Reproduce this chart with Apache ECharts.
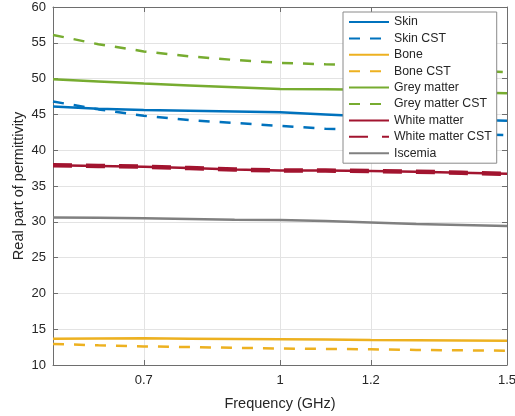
<!DOCTYPE html>
<html>
<head>
<meta charset="utf-8">
<script src="https://cdn.jsdelivr.net/npm/echarts@6/dist/echarts.min.js"></script>
<style>
  html, body { margin: 0; padding: 0; background: #fff; }
  #chart { width: 515px; height: 416px; }
</style>
</head>
<body>
<div id="chart"></div>
<script>
// Frequency samples (GHz)
const freq = [0.5, 0.6, 0.7, 0.8, 0.9, 1.0, 1.1, 1.2, 1.3, 1.4, 1.5];
const xTicks = [0.7, 1, 1.2, 1.5];

// Real part of permittivity per tissue
const skin          = [46.1, 45.8, 45.6, 45.5, 45.4, 45.3, 45.0, 44.7, 44.5, 44.3, 44.1];
const skinCST       = [46.8, 45.7, 44.8, 44.2, 43.8, 43.4, 43.0, 42.8, 42.5, 42.3, 42.1];
const bone          = [13.65, 13.7, 13.72, 13.68, 13.64, 13.6, 13.55, 13.5, 13.47, 13.43, 13.4];
const boneCST       = [12.95, 12.75, 12.6, 12.5, 12.4, 12.3, 12.25, 12.2, 12.1, 12.05, 12.0];
const greyMatter    = [49.9, 49.6, 49.3, 49.05, 48.8, 48.55, 48.5, 48.45, 48.3, 48.1, 47.95];
const greyMatterCST = [56.1, 54.8, 53.8, 53.1, 52.6, 52.2, 52.0, 51.9, 51.6, 51.2, 50.9];
const whiteMatter   = [37.9, 37.8, 37.7, 37.5, 37.3, 37.15, 37.15, 37.1, 37.0, 36.85, 36.7];
const whiteMatterCST= [37.9, 37.8, 37.7, 37.5, 37.3, 37.15, 37.15, 37.1, 37.0, 36.85, 36.7];
const iscemia       = [30.6, 30.55, 30.5, 30.4, 30.3, 30.25, 30.1, 29.9, 29.7, 29.55, 29.4];

const FONT = '"Liberation Sans", Arial, Helvetica, sans-serif';
const TXT = '#262626';
const AX = '#6e6e6e';

function pts(vals) { return freq.map((f, i) => [f, vals[i]]); }

function line(name, vals, color, dashed, width, dash) {
  return {
    name: name,
    type: 'line',
    data: pts(vals),
    showSymbol: false,
    symbol: 'none',
    animation: false,
    lineStyle: {
      color: color,
      width: width || 2.5,
      type: dashed ? (dash || [11, 10]) : 'solid',
      cap: 'butt'
    },
    itemStyle: { color: color }
  };
}

const chart = echarts.init(document.getElementById('chart'), null, { renderer: 'canvas' });

chart.setOption({
  backgroundColor: '#fff',
  animation: false,
  textStyle: { fontFamily: FONT, color: TXT },
  grid: { left: 53, right: 8, top: 7, bottom: 51, containLabel: false, outerBoundsMode: 'none' },
  legend: {
    orient: 'vertical',
    left: 343,
    top: 12,
    itemWidth: 40,
    itemHeight: 14,
    itemGap: 4.4,
    padding: [4, 5, 4, 5],
    backgroundColor: '#fff',
    borderColor: '#8a8a8a',
    borderWidth: 1,
    itemStyle: { opacity: 0 },
    textStyle: { fontFamily: FONT, fontSize: 12.3, color: TXT },
    data: ['Skin', 'Skin CST', 'Bone', 'Bone CST', 'Grey matter', 'Grey matter CST',
           'White matter', 'White matter CST', 'Iscemia']
  },
  xAxis: [{
    type: 'value',
    min: 0.5, max: 1.5,
    name: 'Frequency (GHz)',
    nameLocation: 'middle',
    nameGap: 31,
    nameMoveOverlap: false,
    nameTextStyle: { fontFamily: FONT, fontSize: 14.5, color: TXT },
    axisLine: { show: true, onZero: false, lineStyle: { color: AX, width: 1 } },
    axisTick: { show: true, inside: true, length: 5, customValues: xTicks, lineStyle: { color: AX } },
    axisLabel: { customValues: xTicks, fontFamily: FONT, fontSize: 13, color: TXT, margin: 9,
                 formatter: v => String(+v.toFixed(2)) },
    splitLine: { show: true, lineStyle: { color: '#e3e3e3', width: 1 } }
  }, {
    type: 'value',
    position: 'top',
    min: 0.5, max: 1.5,
    axisLine: { show: true, onZero: false, lineStyle: { color: AX, width: 1 } },
    axisTick: { show: true, inside: true, length: 5, customValues: xTicks, lineStyle: { color: AX } },
    axisLabel: { show: false },
    splitLine: { show: false }
  }],
  yAxis: [{
    type: 'value',
    min: 10, max: 60, interval: 5,
    name: 'Real part of permittivity',
    nameLocation: 'middle',
    nameGap: 27,
    nameMoveOverlap: false,
    nameTextStyle: { fontFamily: FONT, fontSize: 14.5, color: TXT },
    axisLine: { show: true, onZero: false, lineStyle: { color: AX, width: 1 } },
    axisTick: { show: true, inside: true, length: 5, lineStyle: { color: AX } },
    axisLabel: { fontFamily: FONT, fontSize: 13, color: TXT, margin: 7 },
    splitLine: { show: true, lineStyle: { color: '#e3e3e3', width: 1 } }
  }, {
    type: 'value',
    position: 'right',
    min: 10, max: 60, interval: 5,
    axisLine: { show: true, onZero: false, lineStyle: { color: AX, width: 1 } },
    axisTick: { show: true, inside: true, length: 5, lineStyle: { color: AX } },
    axisLabel: { show: false },
    splitLine: { show: false }
  }],
  series: [
    line('Skin', skin, '#0072BD', false),
    line('Skin CST', skinCST, '#0072BD', true),
    line('Bone', bone, '#EDB120', false),
    line('Bone CST', boneCST, '#EDB120', true),
    line('Grey matter', greyMatter, '#77AC30', false),
    line('Grey matter CST', greyMatterCST, '#77AC30', true),
    line('White matter', whiteMatter, '#A2142F', false),
    line('White matter CST', whiteMatterCST, '#A2142F', true, 4.5, [19, 14]),
    line('Iscemia', iscemia, '#808080', false)
  ]
});
</script>
</body>
</html>
